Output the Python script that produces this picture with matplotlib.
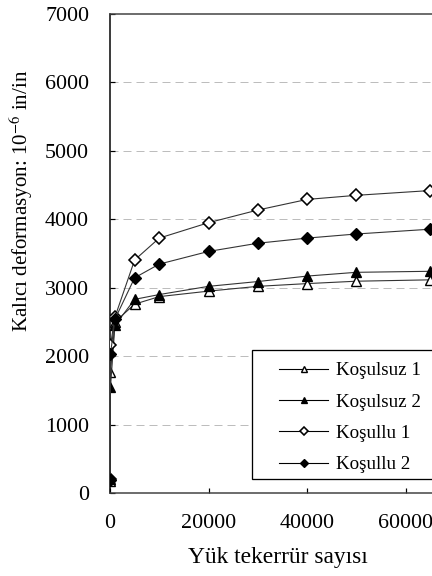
import matplotlib
matplotlib.use("Agg")
import matplotlib.pyplot as plt
from matplotlib.patches import Rectangle

plt.rcParams['font.family'] = ['Liberation Serif', 'DejaVu Serif']
plt.rcParams['mathtext.fontset'] = 'stix'

cycles = [0, 100, 1000, 5000, 10000, 20000, 30000, 40000, 50000, 65000]
kosulsuz1 = [180, 1770, 2500, 2760, 2870, 2950, 3020, 3060, 3095, 3115]
kosulsuz2 = [200, 1550, 2450, 2830, 2900, 3020, 3090, 3170, 3225, 3240]
kosullu1 = [210, 2160, 2570, 3405, 3725, 3950, 4135, 4290, 4350, 4420]
kosullu2 = [190, 2030, 2540, 3145, 3345, 3530, 3650, 3725, 3785, 3855]
labels = ["Koşulsuz 1", "Koşulsuz 2", "Koşullu 1", "Koşullu 2"]
xticks = [0, 20000, 40000, 60000]
yticks = [0, 1000, 2000, 3000, 4000, 5000, 6000, 7000]

W, H = 432, 576
fig = plt.figure(figsize=(W / 72, H / 72), dpi=72)
ax = fig.add_axes([110 / W, (H - 493) / H, (W - 110) / W, 479 / H])

lc = '#333333'
ax.plot(cycles, kosulsuz1, color=lc, lw=1.1, marker='^', ms=10, mfc='white', mec='black', mew=1.4, label=labels[0], zorder=3)
ax.plot(cycles, kosulsuz2, color=lc, lw=1.1, marker='^', ms=10, mfc='black', mec='black', mew=1.3, label=labels[1], zorder=3)
ax.plot(cycles, kosullu1, color=lc, lw=1.1, marker='D', ms=8.5, mfc='white', mec='black', mew=1.6, label=labels[2], zorder=3)
ax.plot(cycles, kosullu2, color=lc, lw=1.1, marker='D', ms=8.5, mfc='black', mec='black', mew=1.3, label=labels[3], zorder=3)

ax.set_xlim(0, 322 / 98.5 * 20000)
ax.set_ylim(0, 7000)
ax.set_xticks(xticks)
ax.set_yticks(yticks)
ax.tick_params(axis='both', direction='in', length=5, width=1.2, labelsize=22, colors='black')
ax.tick_params(axis='x', pad=21)
ax.tick_params(axis='y', pad=21)
for v in yticks[1:-1]:
    ax.axhline(v, color='#bdbdbd', lw=1, ls=(0, (8, 5)), zorder=1)

ax.spines['right'].set_visible(False)
for s in ['left', 'bottom', 'top']:
    ax.spines[s].set_color('#404040')
    ax.spines[s].set_linewidth(1.5)
ax.spines['left'].set_color('black')

fig.text(21 / W, 1 - 201 / H, "Kalıcı deformasyon: 10$^{-6}$ in/in", rotation=90,
         ha='center', va='center', fontsize=21)
fig.text((110 + 168) / W, 1 - 557 / H, "Yük tekerrür sayısı", ha='center', va='center', fontsize=23.5)

rect = Rectangle((252 / W, (H - 479) / H), (445 - 252) / W, 129 / H, transform=fig.transFigure,
                 facecolor='white', edgecolor='black', lw=1.3, zorder=5, clip_on=False)
fig.patches.append(rect)

leg = fig.legend(loc='upper left', bbox_to_anchor=(279 / W, 1 - 362 / H), frameon=False,
                 fontsize=19, handlelength=2.58, handletextpad=0.42, labelspacing=0.74,
                 borderpad=0, borderaxespad=0, markerscale=0.65)
for line in leg.get_lines():
    line.set_color('black')
leg.set_zorder(6)

fig.savefig("out.png", dpi=72)
